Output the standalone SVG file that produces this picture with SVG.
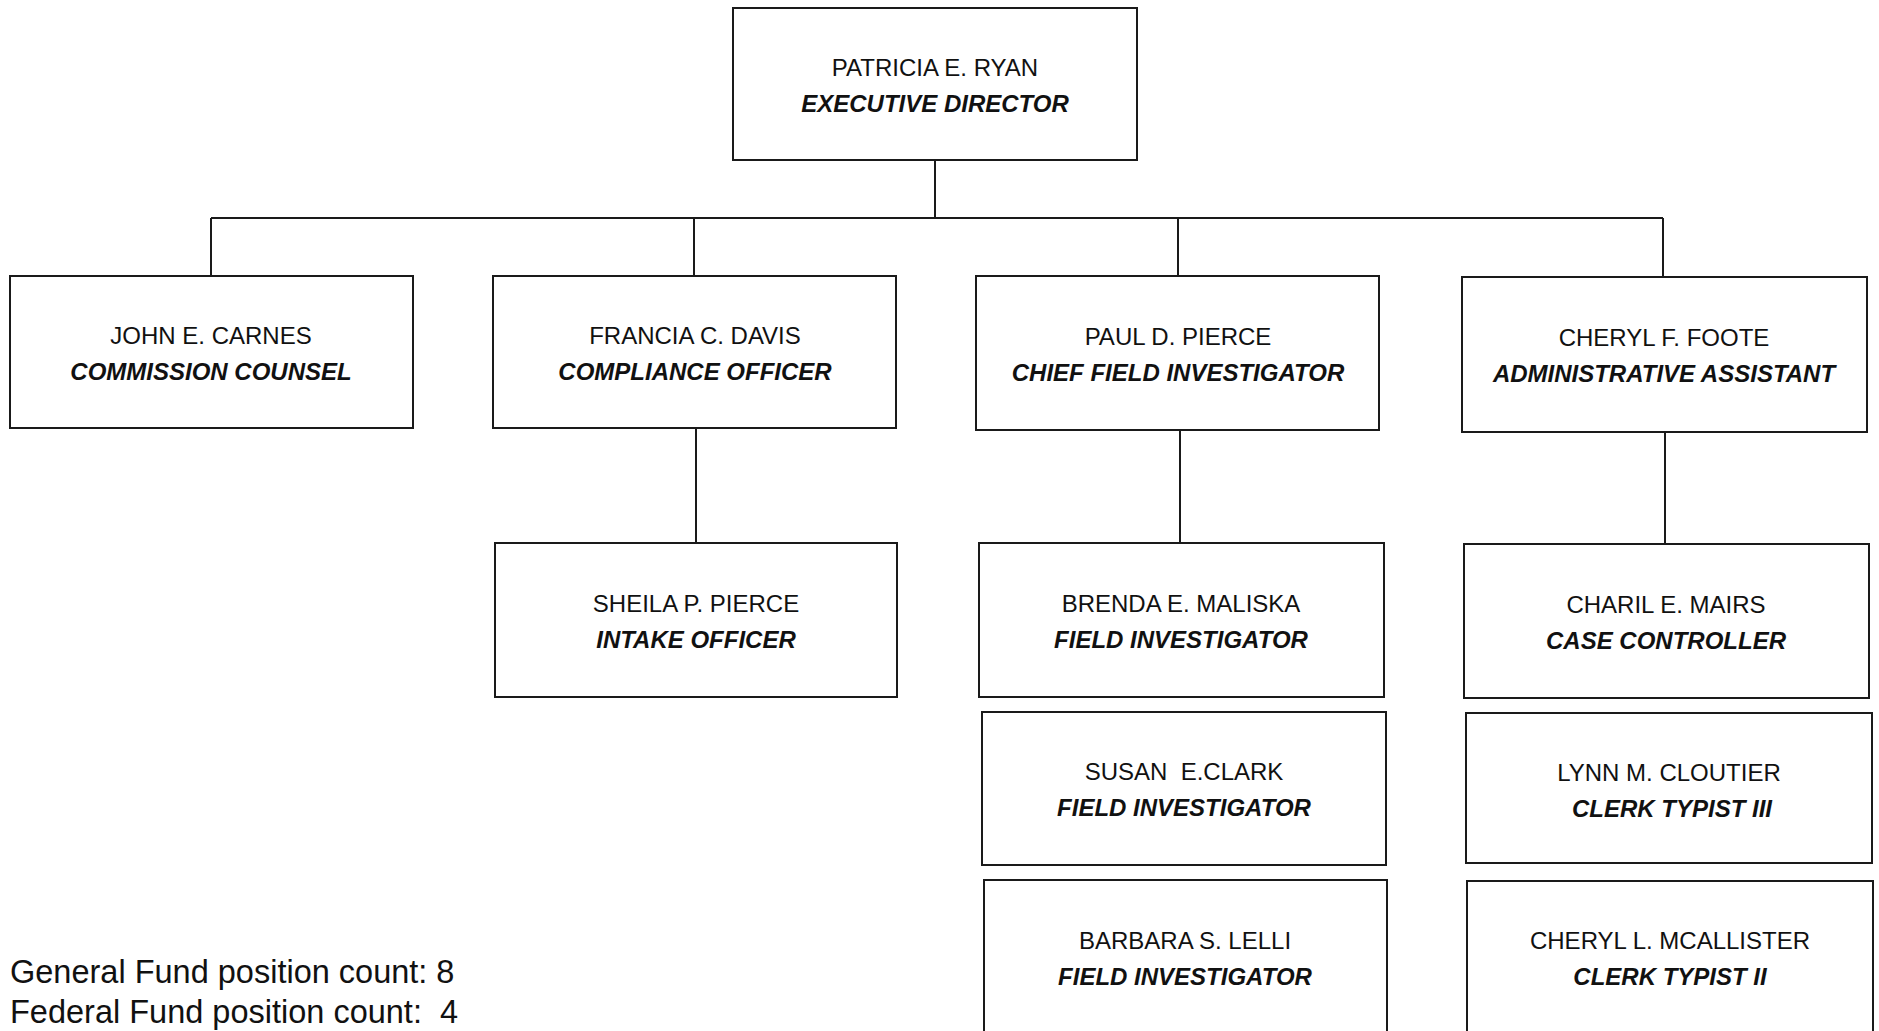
<svg xmlns="http://www.w3.org/2000/svg" width="1879" height="1031" viewBox="0 0 1879 1031">
<style>
.box{fill:#fff;stroke:#1a1a1a;stroke-width:2}
.conn{stroke:#1a1a1a;stroke-width:2;fill:none}
.nm{font-family:"Liberation Sans",Arial,sans-serif;font-size:24px;fill:#111;text-anchor:middle}
.tt{font-family:"Liberation Sans",Arial,sans-serif;font-size:24px;font-weight:bold;font-style:italic;fill:#111;text-anchor:middle}
.note{font-family:"Liberation Sans",Arial,sans-serif;font-size:32.5px;fill:#111;white-space:pre}
</style>
<rect width="1879" height="1031" fill="#fff"/>
<g id="connectors">
<path class="conn" d="M935,159V218M211,218H1663M211,218V276M694,218V276M1178,218V276M1663,218V277M696,428V543M1180,430V543M1665,432V544"/>
</g>
<g id="node-ryan">
<rect class="box" x="733" y="8" width="404" height="152"/>
<text class="nm" x="935" y="76">PATRICIA E. RYAN</text>
<text class="tt" x="935" y="112">EXECUTIVE DIRECTOR</text>
</g>
<g id="node-carnes">
<rect class="box" x="10" y="276" width="403" height="152"/>
<text class="nm" x="211" y="344">JOHN E. CARNES</text>
<text class="tt" x="211" y="380">COMMISSION COUNSEL</text>
</g>
<g id="node-davis">
<rect class="box" x="493" y="276" width="403" height="152"/>
<text class="nm" x="695" y="344">FRANCIA C. DAVIS</text>
<text class="tt" x="695" y="380">COMPLIANCE OFFICER</text>
</g>
<g id="node-ppierce">
<rect class="box" x="976" y="276" width="403" height="154"/>
<text class="nm" x="1178" y="345">PAUL D. PIERCE</text>
<text class="tt" x="1178" y="381">CHIEF FIELD INVESTIGATOR</text>
</g>
<g id="node-foote">
<rect class="box" x="1462" y="277" width="405" height="155"/>
<text class="nm" x="1664" y="346">CHERYL F. FOOTE</text>
<text class="tt" x="1664" y="382">ADMINISTRATIVE ASSISTANT</text>
</g>
<g id="node-spierce">
<rect class="box" x="495" y="543" width="402" height="154"/>
<text class="nm" x="696" y="612">SHEILA P. PIERCE</text>
<text class="tt" x="696" y="648">INTAKE OFFICER</text>
</g>
<g id="node-maliska">
<rect class="box" x="979" y="543" width="405" height="154"/>
<text class="nm" x="1181" y="612">BRENDA E. MALISKA</text>
<text class="tt" x="1181" y="648">FIELD INVESTIGATOR</text>
</g>
<g id="node-clark">
<rect class="box" x="982" y="712" width="404" height="153"/>
<text class="nm" x="1184" y="780" xml:space="preserve">SUSAN  E.CLARK</text>
<text class="tt" x="1184" y="816">FIELD INVESTIGATOR</text>
</g>
<g id="node-lelli">
<rect class="box" x="984" y="880" width="403" height="170"/>
<text class="nm" x="1185" y="949">BARBARA S. LELLI</text>
<text class="tt" x="1185" y="985">FIELD INVESTIGATOR</text>
</g>
<g id="node-mairs">
<rect class="box" x="1464" y="544" width="405" height="154"/>
<text class="nm" x="1666" y="613">CHARIL E. MAIRS</text>
<text class="tt" x="1666" y="649">CASE CONTROLLER</text>
</g>
<g id="node-cloutier">
<rect class="box" x="1466" y="713" width="406" height="150"/>
<text class="nm" x="1669" y="781">LYNN M. CLOUTIER</text>
<text class="tt" x="1672" y="817">CLERK TYPIST III</text>
</g>
<g id="node-mcallister">
<rect class="box" x="1467" y="881" width="406" height="170"/>
<text class="nm" x="1670" y="949">CHERYL L. MCALLISTER</text>
<text class="tt" x="1670" y="985">CLERK TYPIST II</text>
</g>
<g id="notes">
<text class="note" x="10" y="983">General Fund position count: 8</text>
<text class="note" x="10" y="1023" xml:space="preserve">Federal Fund position count:  4</text>
</g>
</svg>
